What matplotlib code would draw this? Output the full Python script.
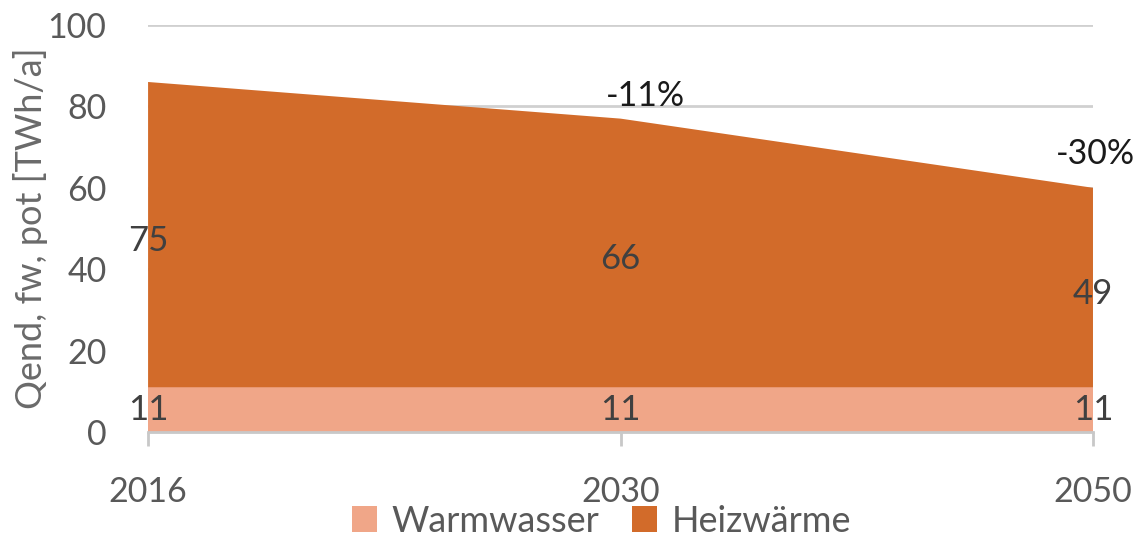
import matplotlib
matplotlib.use("Agg")
import matplotlib.pyplot as plt
from matplotlib.patches import Patch
import numpy as np

years = ["2016", "2030", "2050"]
warmwasser = [11, 11, 11]
heizwaerme = [75, 66, 49]
changes = ["", "-11%", "-30%"]

plt.rcParams['font.family'] = ['Lato', 'DejaVu Sans']

c_ww = "#F0A688"
c_hz = "#D26B2A"

fig = plt.figure(figsize=(11.39, 5.39), dpi=100)
ax = fig.add_axes([0.130, 0.1985, 0.8296, 0.7551])

x = np.arange(len(years))
ax.stackplot(x, warmwasser, heizwaerme, colors=[c_ww, c_hz], zorder=2)

ax.set_xlim(0, len(years) - 1)
ax.set_ylim(0, 100)
ax.set_yticks(range(0, 101, 20))
ax.yaxis.grid(True, color="#d0d0d0", linewidth=2, zorder=1)
ax.set_axisbelow(True)
for s in ["top", "right", "left"]:
    ax.spines[s].set_visible(False)
ax.spines["bottom"].set_color("#c8c8c8")
ax.spines["bottom"].set_linewidth(2)
ax.spines["bottom"].set_zorder(3)

ax.set_xticks(x)
ax.set_xticklabels(years)
ax.tick_params(axis="x", length=10, width=2, color="#c8c8c8", pad=22,
               labelsize=24.5, labelcolor="#595959")
ax.tick_params(axis="y", length=0, pad=30, labelsize=24.5, labelcolor="#595959")

ax.set_ylabel("Qend, fw, pot [TWh/a]", fontsize=26, color="#6a6a6a", labelpad=0)

for i in range(len(years)):
    ax.text(x[i], warmwasser[i] / 2, str(warmwasser[i]), ha="center", va="center",
            fontsize=25, color="#404040", zorder=5, clip_on=False)
    ax.text(x[i], warmwasser[i] + heizwaerme[i] / 2 - 1.5, str(heizwaerme[i]), ha="center",
            va="center", fontsize=25, color="#404040", zorder=5, clip_on=False)

offsets = [(0, 0), (18, 16), (2, 24)]
for i in range(len(years)):
    if changes[i]:
        ax.annotate(changes[i], xy=(x[i], warmwasser[i] + heizwaerme[i]),
                    xytext=offsets[i], textcoords="offset points",
                    ha="center", va="center", fontsize=24.5, color="#1a1a1a",
                    annotation_clip=False, zorder=5)

handles = [Patch(facecolor=c_ww, edgecolor="none", label="Warmwasser"),
           Patch(facecolor=c_hz, edgecolor="none", label="Heizwärme")]
leg = fig.legend(handles=handles, loc="center", bbox_to_anchor=(0.528, 0.033), ncol=2,
                 frameon=False, fontsize=26, handlelength=0.7, handleheight=0.7,
                 handletextpad=0.4, columnspacing=0.9, labelcolor="#595959")

fig.savefig("out.png", dpi=100)
